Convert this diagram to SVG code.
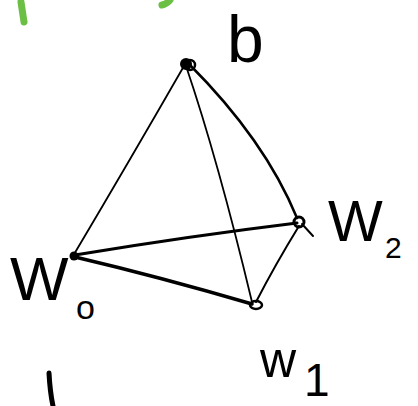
<svg xmlns="http://www.w3.org/2000/svg" width="418" height="406" viewBox="0 0 418 406">
<style>
.e{fill:none;stroke:#000;stroke-linecap:round}
.t{font-family:"Liberation Sans","DejaVu Sans",sans-serif;fill:#000}
.g{fill:none;stroke:#6cbf45;stroke-width:7;stroke-linecap:round}
</style>
<rect width="418" height="406" fill="#fff"/>
<path class="g" d="M21 2 L24 22"/>
<path class="g" d="M162 5 Q167 4 170 0"/>
<path class="e" d="M49 373 Q50 392 53 406" stroke-width="5"/>
<g id="connectors">
<path class="e" stroke-width="1.8" d="M184 66 Q130 160 73 256"/>
<path class="e" stroke-width="1.8" d="M186 66 Q218 160 252 302"/>
<path class="e" stroke-width="2.5" d="M189 64 Q265 140 297 218"/>
<path class="e" stroke-width="3" d="M75 255 Q190 236 297 223"/>
<path class="e" stroke-width="3.5" d="M75 257 Q160 277 252 304"/>
<path class="e" stroke-width="2" d="M299 226 Q275 265 256 302"/>
<path class="e" stroke-width="2" d="M302 224 L313 236"/>
</g>
<g id="b">
<circle cx="186" cy="64" r="6" fill="#000"/>
<circle cx="190" cy="65" r="5" fill="none" stroke="#000" stroke-width="2.5"/>
<text class="t" x="227" y="62" font-size="66">b</text>
</g>
<g id="w0">
<circle cx="74" cy="256" r="4.5" fill="#000"/>
<text class="t" x="10" y="300" font-size="62">W</text>
<text class="t" x="76" y="319" font-size="34">o</text>
</g>
<g id="w1">
<ellipse cx="256" cy="305" rx="6" ry="4" fill="none" stroke="#000" stroke-width="2.5"/>
<text class="t" x="260" y="377" font-size="50">w</text>
<text class="t" x="304" y="396" font-size="46">1</text>
</g>
<g id="w2">
<circle cx="299" cy="222" r="5" fill="none" stroke="#000" stroke-width="3"/>
<text class="t" x="328" y="241" font-size="58">W</text>
<text class="t" x="385" y="258" font-size="30">2</text>
</g>
</svg>
